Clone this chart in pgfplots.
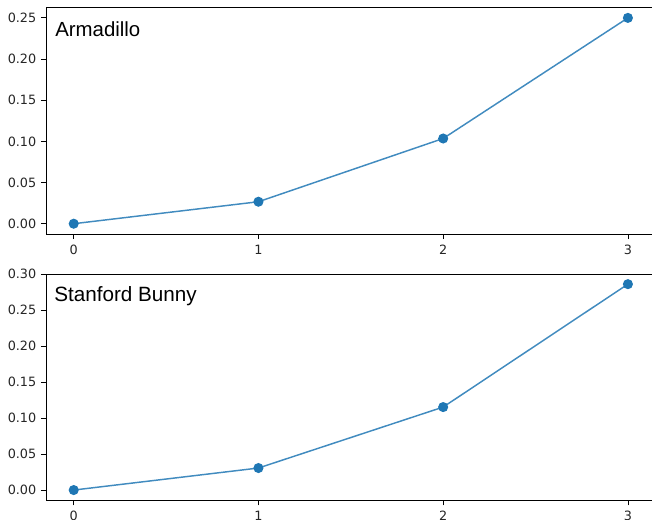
\documentclass[border=0pt]{standalone}
\usepackage{pgfplots}
\pgfplotsset{compat=1.18}
\usepackage{fontspec}
\setmainfont{DejaVu Sans}
\newfontfamily\arialfont{Liberation Sans}
\definecolor{tabblue}{HTML}{1F77B4}
\begin{document}
\begin{tikzpicture}
\useasboundingbox (0,0) rectangle (489pt,389.25pt);
\clip (0,0) rectangle (489pt,389.25pt);
\pgfplotsset{
  every axis/.style={
    anchor=south west,
    width=457.2pt, height=169.8pt,
    scale only axis,
    xmin=-0.15, xmax=3.15,
    xtick={0,1,2,3},
    axis line style={line width=0.6pt},
    tick style={line width=0.6pt, black},
    tick align=outside,
    major tick length=3.75pt,
    xtick pos=bottom, ytick pos=left,
    tick label style={font=\fontsize{9.6pt}{11pt}\selectfont, text=black!85},
    /pgf/number format/assume math mode=true,
    yticklabel style={/pgf/number format/fixed, /pgf/number format/fixed zerofill, /pgf/number format/precision=2},
    xticklabel style={yshift=-1pt},
    scaled y ticks=false,
    clip=false,
  },
}
\begin{axis}[at={(34.5pt,213.75pt)}, ymin=-0.0125, ymax=0.2625, ytick={0,0.05,0.10,0.15,0.20,0.25}]
\addplot[color=tabblue!85!white, line width=1.1pt, mark=*, mark options={fill=tabblue, draw=tabblue, scale=1.6}] coordinates {(0,0) (1,0.0267) (2,0.1035) (3,0.25)};
\node[anchor=base west, inner sep=0pt, font=\arialfont\fontsize{15.3pt}{17pt}\selectfont] at (rel axis cs:0.0148,0.872) {Armadillo};
\end{axis}
\begin{axis}[at={(34.5pt,14.0pt)}, ymin=-0.0143, ymax=0.3003, ytick={0,0.05,0.10,0.15,0.20,0.25,0.30}]
\addplot[color=tabblue!85!white, line width=1.1pt, mark=*, mark options={fill=tabblue, draw=tabblue, scale=1.6}] coordinates {(0,0) (1,0.0306) (2,0.1153) (3,0.2861)};
\node[anchor=base west, inner sep=0pt, font=\arialfont\fontsize{15.5pt}{17pt}\selectfont] at (rel axis cs:0.0131,0.877) {Stanford Bunny};
\end{axis}
\end{tikzpicture}
\end{document}
